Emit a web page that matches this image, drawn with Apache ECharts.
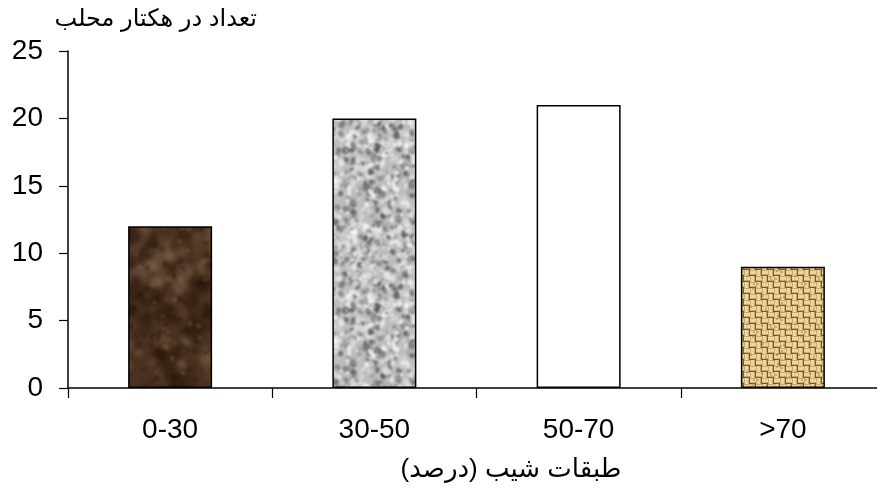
<!DOCTYPE html>
<html>
<head>
<meta charset="utf-8">
<script src="https://cdn.jsdelivr.net/npm/echarts@6/dist/echarts.min.js"></script>
<style>
  html, body { margin: 0; padding: 0; background: #fff; }
  #chart { width: 877px; height: 494px; }
</style>
</head>
<body>
<div id="chart"></div>
<script>
// Slope classes (percent) and count per hectare
var categories = ['0-30', '30-50', '50-70', '>70'];
var counts = [12, 20, 21, 9];
var yTicks = [0, 5, 10, 15, 20, 25];
var yTitle = 'تعداد در هکتار محلب';
var xTitle = 'طبقات شیب (درصد)';

// Small seeded generator so textures look the same on every load
function rng(seed) {
  var s = seed >>> 0;
  return function () {
    s = (s * 1664525 + 1013904223) >>> 0;
    return s / 4294967296;
  };
}

function makeCanvas(w, h) {
  var c = document.createElement('canvas');
  c.width = w; c.height = h;
  return c;
}

// Paint soft blobs onto a tile, wrapping around the edges so it repeats cleanly
function blobs(g, w, h, r, n, minR, maxR, colorFn) {
  for (var i = 0; i < n; i++) {
    var x = r() * w, y = r() * h, rad = minR + r() * (maxR - minR);
    var rot = r() * Math.PI, sq = 0.5 + r() * 0.8;
    g.fillStyle = colorFn(r);
    for (var ox = -w; ox <= w; ox += w) {
      for (var oy = -h; oy <= h; oy += h) {
        g.beginPath();
        g.ellipse(x + ox, y + oy, rad, rad * sq, rot, 0, Math.PI * 2);
        g.fill();
      }
    }
  }
}

// Dark brown marble texture
function marbleTexture() {
  var w = 200, h = 200;
  var c = makeCanvas(w, h), g = c.getContext('2d'), r = rng(7);
  g.fillStyle = '#4a3120';
  g.fillRect(0, 0, w, h);
  g.filter = 'blur(2px)';
  blobs(g, w, h, r, 260, 3, 12, function (r) {
    var t = r();
    if (t < 0.45) return 'rgba(36,20,9,0.45)';
    if (t < 0.8) return 'rgba(105,76,52,0.4)';
    return 'rgba(150,122,92,0.35)';
  });
  g.filter = 'blur(1px)';
  blobs(g, w, h, r, 350, 1, 3, function (r) {
    return r() < 0.5 ? 'rgba(135,105,75,0.35)' : 'rgba(30,18,8,0.35)';
  });
  return c;
}

// Grey speckled granite texture
function graniteTexture() {
  var w = 160, h = 160;
  var c = makeCanvas(w, h), g = c.getContext('2d'), r = rng(21);
  g.fillStyle = '#bdbdbd';
  g.fillRect(0, 0, w, h);
  g.filter = 'blur(1px)';
  blobs(g, w, h, r, 1500, 1.4, 3.4, function (r) {
    var t = r();
    var v = t < 0.4 ? Math.floor(80 + r() * 70) : Math.floor(200 + r() * 55);
    return 'rgba(' + v + ',' + v + ',' + v + ',0.75)';
  });
  return c;
}

// Tan woven burlap texture
function burlapTexture() {
  var w = 48, h = 48;
  var c = makeCanvas(w, h), g = c.getContext('2d'), r = rng(3);
  g.fillStyle = '#c9aa70';
  g.fillRect(0, 0, w, h);
  var cell = 6;
  for (var by = 0; by < h; by += cell) {
    for (var bx = 0; bx < w; bx += cell) {
      var horiz = ((bx + by) / cell) % 2 === 0;
      g.fillStyle = 'rgba(238,214,160,0.95)';
      if (horiz) g.fillRect(bx, by + 1, cell, 3);
      else g.fillRect(bx + 1, by, 3, cell);
      g.fillStyle = 'rgba(105,78,34,0.85)';
      if (horiz) g.fillRect(bx, by + 5, cell, 1);
      else g.fillRect(bx + 5, by, 1, cell);
    }
  }
  for (var i = 0; i < 30; i++) {
    g.fillStyle = 'rgba(100,72,30,0.3)';
    g.fillRect(Math.floor(r() * w), Math.floor(r() * h), 2, 2);
  }
  return c;
}

var fills = [
  { image: marbleTexture(), repeat: 'repeat' },
  { image: graniteTexture(), repeat: 'repeat' },
  '#ffffff',
  { image: burlapTexture(), repeat: 'repeat' }
];

var font = "'Liberation Sans', Arial, 'DejaVu Sans', sans-serif";
var chart = echarts.init(document.getElementById('chart'), null, { renderer: 'canvas' });

chart.setOption({
  animation: false,
  backgroundColor: '#ffffff',
  // plot area runs a little past the right edge of the canvas
  grid: {
    left: 68, width: 817, top: 51, bottom: 106,
    containLabel: false, outerBoundsMode: 'none'
  },
  graphic: [
    {
      type: 'text', x: 257, y: 19,
      style: {
        text: yTitle, textAlign: 'right', textVerticalAlign: 'middle',
        font: '24px ' + font, fill: '#000'
      }
    },
    {
      type: 'text', x: 511, y: 470,
      style: {
        text: xTitle, textAlign: 'center', textVerticalAlign: 'middle',
        font: '26px ' + font, fill: '#000'
      }
    }
  ],
  xAxis: {
    type: 'category',
    data: categories,
    axisLine: { lineStyle: { color: '#000', width: 1.5 } },
    axisTick: { show: true, length: 10, alignWithLabel: false, lineStyle: { color: '#000', width: 1.2 } },
    axisLabel: { fontFamily: font, fontSize: 28, color: '#000', margin: 28 },
    splitLine: { show: false }
  },
  yAxis: {
    type: 'value',
    min: yTicks[0],
    max: yTicks[yTicks.length - 1],
    interval: 5,
    axisLine: { show: true, lineStyle: { color: '#000', width: 1.5 } },
    axisTick: { show: true, inside: false, length: 9, lineStyle: { color: '#000', width: 1.2 } },
    axisLabel: { fontFamily: font, fontSize: 28, color: '#000', margin: 25 },
    splitLine: { show: false }
  },
  series: [{
    type: 'bar',
    barWidth: 84,
    data: counts.map(function (v, i) {
      return {
        value: v,
        itemStyle: { color: fills[i], borderColor: '#000', borderWidth: 1.5 }
      };
    })
  }]
});
</script>
</body>
</html>
